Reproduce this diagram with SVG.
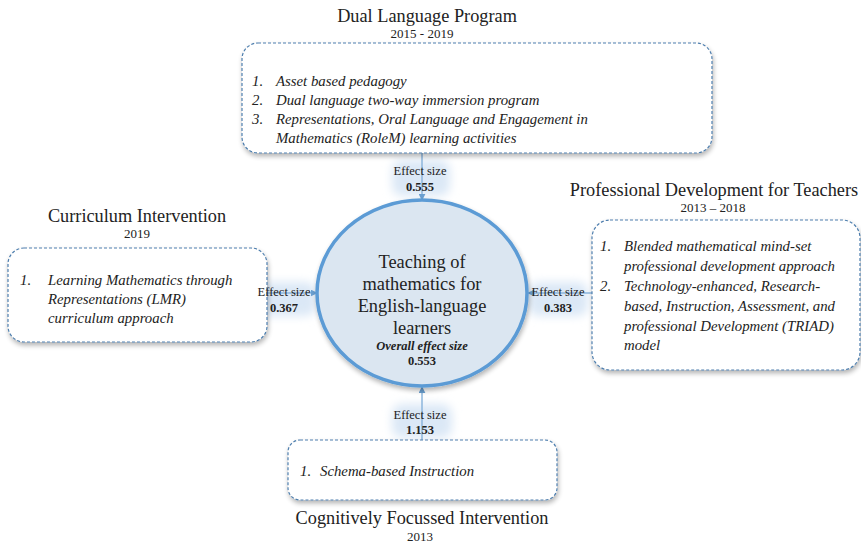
<svg xmlns="http://www.w3.org/2000/svg" width="861" height="547" viewBox="0 0 861 547">
  <defs>
    <filter id="shadow" x="-10%" y="-10%" width="125%" height="130%">
      <feGaussianBlur in="SourceAlpha" stdDeviation="2.5"/>
      <feOffset dx="1" dy="3" result="b"/>
      <feComponentTransfer><feFuncA type="linear" slope="0.3"/></feComponentTransfer>
      <feMerge><feMergeNode/><feMergeNode in="SourceGraphic"/></feMerge>
    </filter>
    <filter id="glow" x="-30%" y="-50%" width="160%" height="200%">
      <feGaussianBlur stdDeviation="5"/>
    </filter>
    <marker id="arrow" viewBox="0 0 10 10" refX="9" refY="5" markerWidth="7" markerHeight="7" orient="auto" markerUnits="userSpaceOnUse">
      <path d="M0,0 L10,5 L0,10 z" fill="#6a9fd0"/>
    </marker>
    <style>
      .box { fill: #ffffff; stroke: #4f7fae; stroke-width: 1.2; stroke-dasharray: 3 2; }
      .title { font-family: "Liberation Serif", "Times New Roman", serif; font-size: 18.3px; fill: #222; text-anchor: middle; }
      .year { font-family: "Liberation Serif", "Times New Roman", serif; font-size: 13px; fill: #222; text-anchor: middle; }
      .item { font-family: "Liberation Serif", "Times New Roman", serif; font-size: 14.8px; font-style: italic; fill: #222; }
      .es { font-family: "Liberation Serif", "Times New Roman", serif; font-size: 12.5px; fill: #222; text-anchor: middle; }
      .esv { font-family: "Liberation Serif", "Times New Roman", serif; font-size: 12.5px; font-weight: bold; fill: #222; text-anchor: middle; }
      .halo { fill: #dbe8f6; filter: url(#glow); }
      .conn { stroke: #8db6dc; stroke-width: 1.5; fill: none; marker-end: url(#arrow); }
      .core { font-family: "Liberation Serif", "Times New Roman", serif; font-size: 18.4px; fill: #222; text-anchor: middle; }
    </style>
  </defs>
  <rect width="861" height="547" fill="#ffffff"/>

  <!-- soft halos behind the effect-size labels -->
  <g id="halos">
    <rect class="halo" x="392" y="160" width="58" height="36" rx="10"/>
    <rect class="halo" x="254" y="282" width="62" height="34" rx="10"/>
    <rect class="halo" x="528" y="282" width="60" height="34" rx="10"/>
    <rect class="halo" x="392" y="404" width="60" height="34" rx="10"/>
  </g>

  <!-- connectors -->
  <g id="connectors">
    <line class="conn" x1="422" y1="153" x2="422" y2="200"/>
    <line class="conn" x1="267" y1="293" x2="317" y2="293"/>
    <line class="conn" x1="592" y1="293" x2="528" y2="293"/>
    <line class="conn" x1="422" y1="440" x2="422" y2="387"/>
  </g>

  <!-- centre node -->
  <g id="core">
    <ellipse cx="422" cy="293" rx="105" ry="93" fill="#dbe6f1" stroke="#5b9bd5" stroke-width="3.5" filter="url(#shadow)"/>
    <text class="core" x="422" y="268">Teaching of</text>
    <text class="core" x="422" y="290">mathematics for</text>
    <text class="core" x="422" y="312">English-language</text>
    <text class="core" x="422" y="334">learners</text>
    <text class="esv" x="422" y="350" font-style="italic">Overall effect size</text>
    <text class="esv" x="422" y="365">0.553</text>
  </g>

  <!-- top: dual language programme -->
  <g id="dual-language">
    <text class="title" x="427" y="22">Dual Language Program</text>
    <text class="year" x="422" y="38" font-size="11.5px">2015 - 2019</text>
    <rect class="box" x="242" y="43" width="470" height="110" rx="16" filter="url(#shadow)"/>
    <text class="item" x="252" y="86">1.</text>
    <text class="item" x="276" y="86">Asset based pedagogy</text>
    <text class="item" x="252" y="105">2.</text>
    <text class="item" x="276" y="105">Dual language two-way immersion program</text>
    <text class="item" x="252" y="124">3.</text>
    <text class="item" x="276" y="124">Representations, Oral Language and Engagement in</text>
    <text class="item" x="276" y="143">Mathematics (RoleM) learning activities</text>
    <text class="es" x="420" y="175">Effect size</text>
    <text class="esv" x="420" y="191">0.555</text>
  </g>

  <!-- left: curriculum intervention -->
  <g id="curriculum">
    <text class="title" x="137" y="222" font-size="19px">Curriculum Intervention</text>
    <text class="year" x="137" y="238">2019</text>
    <rect class="box" x="8" y="248" width="259" height="94" rx="16" filter="url(#shadow)"/>
    <text class="item" x="20" y="285">1.</text>
    <text class="item" x="48" y="285">Learning Mathematics through</text>
    <text class="item" x="48" y="304">Representations (LMR)</text>
    <text class="item" x="48" y="323">curriculum approach</text>
    <text class="es" x="284" y="296">Effect size</text>
    <text class="esv" x="284" y="312">0.367</text>
  </g>

  <!-- right: professional development -->
  <g id="professional">
    <text class="title" x="714" y="196">Professional Development for Teachers</text>
    <text class="year" x="713" y="212" font-size="14px">2013 – 2018</text>
    <rect class="box" x="592" y="220" width="268" height="150" rx="18" filter="url(#shadow)"/>
    <text class="item" x="600" y="251">1.</text>
    <text class="item" x="624" y="251">Blended mathematical mind-set</text>
    <text class="item" x="624" y="271">professional development approach</text>
    <text class="item" x="600" y="291">2.</text>
    <text class="item" x="624" y="291">Technology-enhanced, Research-</text>
    <text class="item" x="624" y="311">based, Instruction, Assessment, and</text>
    <text class="item" x="624" y="331">professional Development (TRIAD)</text>
    <text class="item" x="624" y="350">model</text>
    <text class="es" x="558" y="296">Effect size</text>
    <text class="esv" x="558" y="312">0.383</text>
  </g>

  <!-- bottom: cognitively focussed intervention -->
  <g id="cognitive">
    <rect class="box" x="288" y="440" width="269" height="60" rx="12" filter="url(#shadow)"/>
    <text class="item" x="300" y="476">1.</text>
    <text class="item" x="320" y="476">Schema-based Instruction</text>
    <text class="es" x="420" y="419">Effect size</text>
    <text class="esv" x="420" y="434">1.153</text>
    <text class="title" x="422" y="524">Cognitively Focussed Intervention</text>
    <text class="year" x="420" y="541">2013</text>
  </g>
</svg>
